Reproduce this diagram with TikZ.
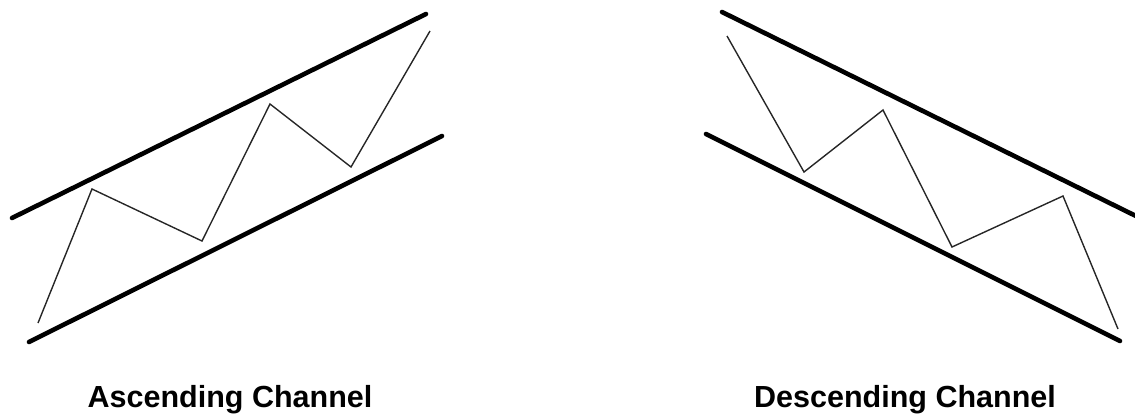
\documentclass[tikz,border=0pt]{standalone}
\usepackage{fontspec}
\setmainfont{Liberation Sans}
\usepackage{tikz}
\usetikzlibrary{positioning}
\tikzset{
  bound/.style={line width=4.6pt,line cap=round,draw=black},
  price/.style={line width=1.4pt,draw=black!85,line join=miter},
  caption/.style={font=\bfseries\fontsize{30.5}{34}\selectfont,anchor=base}
}
\begin{document}
\begin{tikzpicture}[x=1pt,y=-1pt]
\useasboundingbox (0,0) rectangle (1135,415);
% ascending channel
\draw[bound] (12,218) -- (426,14);
\draw[bound] (29,342) -- (442,136);
\draw[price] (38,323) -- (92,189) -- (202,241) -- (270,104) -- (351,167) -- (430,31);
\node[caption] (asc) at (230,407) {Ascending Channel};
% descending channel
\draw[bound] (722,12) -- (1140,218);
\draw[bound] (706,134) -- (1120,341);
\draw[price] (727,36) -- (804,172) -- (883,110) -- (952,247) -- (1063,196) -- (1118,329);
\node[caption] (desc) at (905,407) {Descending Channel};
\end{tikzpicture}
\end{document}
